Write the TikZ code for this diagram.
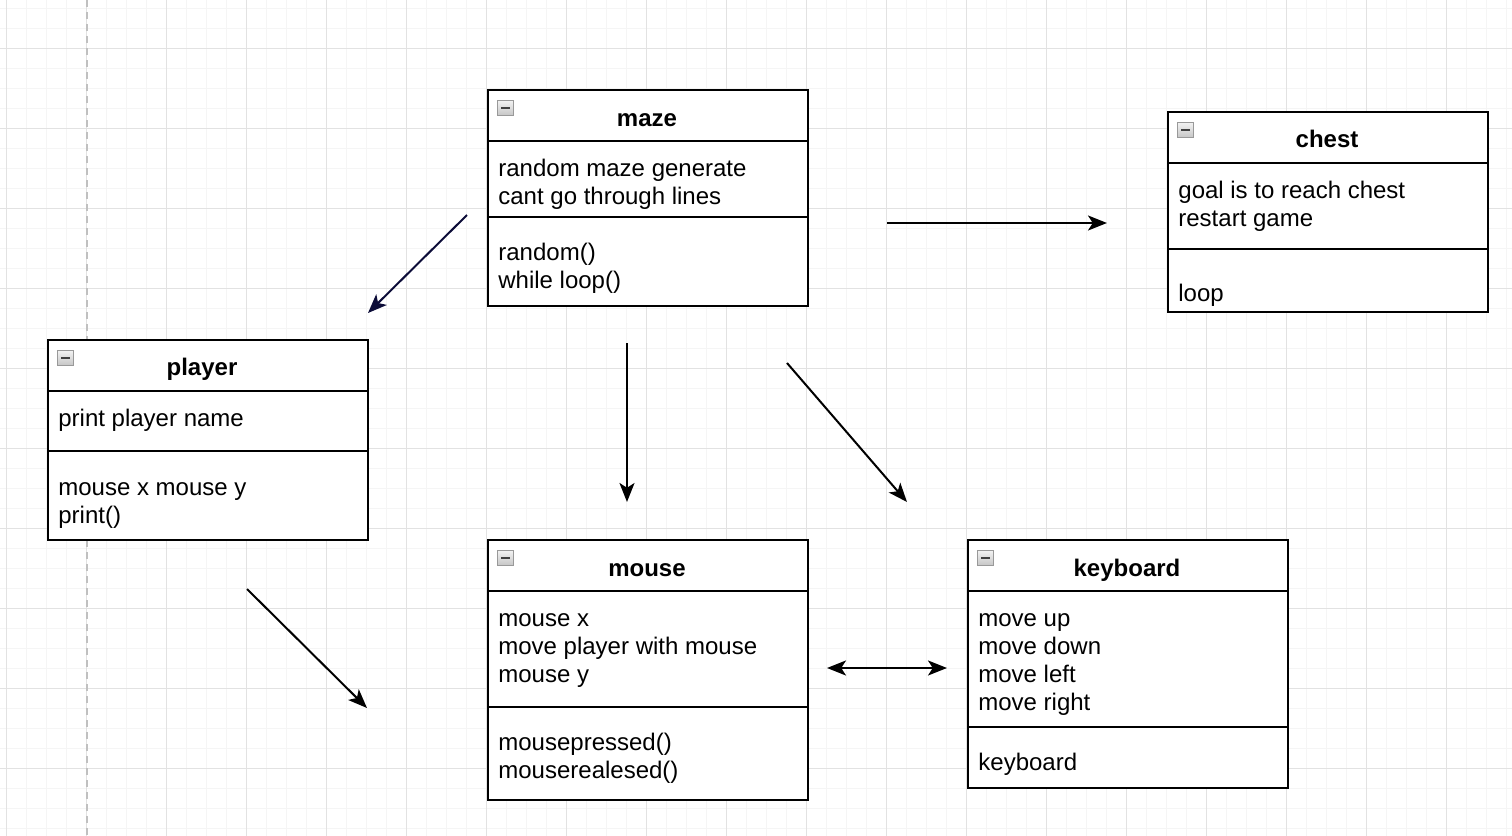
\documentclass[tikz,border=0pt]{standalone}
\usepackage{fontspec}
\setmainfont{Liberation Sans}
\usetikzlibrary{arrows.meta}
\definecolor{gridminor}{RGB}{245,245,245}
\definecolor{gridmajor}{RGB}{226,226,226}
\definecolor{pagerule}{RGB}{192,192,192}
\definecolor{navyarrow}{RGB}{12,12,56}

\begin{document}
\begin{tikzpicture}[x=0.5pt,y=-0.5pt]
        \tikzstyle{classbox}=[draw=black, line width=1.1pt, fill=white, anchor=north west, inner sep=0pt]
        \tikzstyle{classline}=[draw=black, line width=1.1pt]
        \tikzstyle{classtitle}=[anchor=base, inner sep=0pt, font=\fontsize{12}{14}\selectfont\bfseries]
        \tikzstyle{member}=[anchor=base west, inner sep=0pt, font=\fontsize{12}{14}\selectfont]
        \tikzstyle{minusicon}=[anchor=north west, draw=gray!80, line width=0.4pt, top color=gray!10, bottom color=gray!45,
            minimum width=8pt, minimum height=7.5pt, inner sep=0pt,
            path picture={\draw[line width=1pt, black!75] ([xshift=1.8pt]path picture bounding box.west) -- ([xshift=-1.8pt]path picture bounding box.east);}]
        \tikzstyle{link}=[line width=1pt, -{Stealth[length=9.5pt, width=7.5pt, inset=2.4pt]}]
        \useasboundingbox (0,0) rectangle (1512,836);
        \fill[white] (0,0) rectangle (1512,836);
        % grid
        \foreach \x in {6,26,...,1512} \draw[gridminor, line width=0.5pt] (\x,0) -- (\x,836);
        \foreach \y in {8,28,...,836} \draw[gridminor, line width=0.5pt] (0,\y) -- (1512,\y);
        \foreach \x in {6,86,...,1512} \draw[gridmajor, line width=0.5pt] (\x,0) -- (\x,836);
        \foreach \y in {48,128,...,836} \draw[gridmajor, line width=0.5pt] (0,\y) -- (1512,\y);
        \draw[pagerule, line width=1pt, dash pattern=on 3.5pt off 2.5pt] (87,0) -- (87,836);

        % maze
        \node[classbox, minimum width=160pt, minimum height=108pt] (maze) at (487,89) {};
        \draw[classline] ([yshift=-26pt]maze.north west) -- ([yshift=-26pt]maze.north east);
        \draw[classline] ([yshift=-64pt]maze.north west) -- ([yshift=-64pt]maze.north east);
        \node[minusicon] (maze-icon) at (497,100) {};
        \node[classtitle] (maze-title) at (647,126) {maze};
        \node[member] (maze-a1) at (498,176) {random maze generate};
        \node[member] (maze-a2) at (498,204) {cant go through lines};
        \node[member] (maze-m1) at (498,260) {random()};
        \node[member] (maze-m2) at (498,288) {while loop()};

        % chest
        \node[classbox, minimum width=160pt, minimum height=100pt] (chest) at (1167,111) {};
        \draw[classline] ([yshift=-26pt]chest.north west) -- ([yshift=-26pt]chest.north east);
        \draw[classline] ([yshift=-69pt]chest.north west) -- ([yshift=-69pt]chest.north east);
        \node[minusicon] (chest-icon) at (1177,122) {};
        \node[classtitle] (chest-title) at (1327,147) {chest};
        \node[member] (chest-a1) at (1178,198) {goal is to reach chest};
        \node[member] (chest-a2) at (1178,226) {restart game};
        \node[member] (chest-m1) at (1178,301) {loop};

        % player
        \node[classbox, minimum width=160pt, minimum height=100pt] (player) at (47,339) {};
        \draw[classline] ([yshift=-26pt]player.north west) -- ([yshift=-26pt]player.north east);
        \draw[classline] ([yshift=-56pt]player.north west) -- ([yshift=-56pt]player.north east);
        \node[minusicon] (player-icon) at (57,350) {};
        \node[classtitle] (player-title) at (202,375) {player};
        \node[member] (player-a1) at (58,426) {print player name};
        \node[member] (player-m1) at (58,495) {mouse x mouse y};
        \node[member] (player-m2) at (58,523) {print()};

        % mouse
        \node[classbox, minimum width=160pt, minimum height=130pt] (mouse) at (487,539) {};
        \draw[classline] ([yshift=-26pt]mouse.north west) -- ([yshift=-26pt]mouse.north east);
        \draw[classline] ([yshift=-84pt]mouse.north west) -- ([yshift=-84pt]mouse.north east);
        \node[minusicon] (mouse-icon) at (497,550) {};
        \node[classtitle] (mouse-title) at (647,576) {mouse};
        \node[member] (mouse-a1) at (498,626) {mouse x};
        \node[member] (mouse-a2) at (498,654) {move player with mouse};
        \node[member] (mouse-a3) at (498,682) {mouse y};
        \node[member] (mouse-m1) at (498,750) {mousepressed()};
        \node[member] (mouse-m2) at (498,778) {mouserealesed()};

        % keyboard
        \node[classbox, minimum width=160pt, minimum height=124pt] (keyboard) at (967,539) {};
        \draw[classline] ([yshift=-26pt]keyboard.north west) -- ([yshift=-26pt]keyboard.north east);
        \draw[classline] ([yshift=-94pt]keyboard.north west) -- ([yshift=-94pt]keyboard.north east);
        \node[minusicon] (keyboard-icon) at (977,550) {};
        \node[classtitle] (keyboard-title) at (1127,576) {keyboard};
        \node[member] (keyboard-a1) at (978,626) {move up};
        \node[member] (keyboard-a2) at (978,654) {move down};
        \node[member] (keyboard-a3) at (978,682) {move left};
        \node[member] (keyboard-a4) at (978,710) {move right};
        \node[member] (keyboard-m1) at (978,770) {keyboard};

        % arrows
        \coordinate (maze-to-player-s) at (467,215);
        \coordinate (maze-to-player-e) at (368,313);
        \coordinate (maze-to-chest-s) at (887,223);
        \coordinate (maze-to-chest-e) at (1107,223);
        \coordinate (maze-to-mouse-s) at (627,343);
        \coordinate (maze-to-mouse-e) at (627,502);
        \coordinate (maze-to-kb-s) at (787,363);
        \coordinate (maze-to-kb-e) at (907,502);
        \coordinate (player-to-mouse-s) at (247,589);
        \coordinate (player-to-mouse-e) at (367,708);
        \coordinate (mouse-kb-s) at (827,668);
        \coordinate (mouse-kb-e) at (947,668);
        \draw[link, navyarrow] (maze-to-player-s) -- (maze-to-player-e);
        \draw[link] (maze-to-chest-s) -- (maze-to-chest-e);
        \draw[link] (maze-to-mouse-s) -- (maze-to-mouse-e);
        \draw[link] (maze-to-kb-s) -- (maze-to-kb-e);
        \draw[link] (player-to-mouse-s) -- (player-to-mouse-e);
        \draw[link, {Stealth[length=9.5pt, width=7.5pt, inset=2.4pt]}-{Stealth[length=9.5pt, width=7.5pt, inset=2.4pt]}] (mouse-kb-s) -- (mouse-kb-e);
\end{tikzpicture}
\end{document}
